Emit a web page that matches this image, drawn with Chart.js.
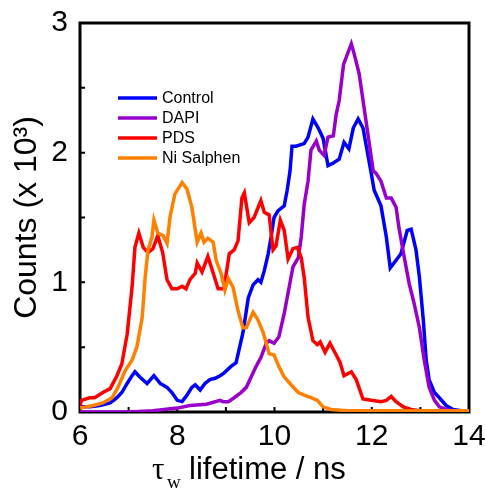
<!DOCTYPE html>
<html>
<head>
<meta charset="utf-8">
<script src="https://cdn.jsdelivr.net/npm/chart.js@4.4.1/dist/chart.umd.min.js"></script>
<style>
  html, body { margin: 0; padding: 0; background: #fff; }
</style>
</head>
<body>
<canvas id="lifetimeChart" width="485" height="490"></canvas>
<script>
// lifetime histograms, counts in units of 10^3

// Control
const controlX = [6.0, 6.2, 6.41, 6.62, 6.76, 6.86, 6.97, 7.07, 7.13, 7.23, 7.38, 7.52, 7.65, 7.79, 7.89, 8.0, 8.1, 8.2, 8.3, 8.37, 8.47, 8.57, 8.67, 8.78, 8.88, 8.96, 9.1, 9.21, 9.27, 9.35, 9.42, 9.46, 9.56, 9.66, 9.72, 9.79, 9.87, 9.93, 9.99, 10.07, 10.2, 10.26, 10.32, 10.36, 10.44, 10.61, 10.69, 10.79, 10.9, 11.0, 11.1, 11.21, 11.33, 11.43, 11.53, 11.62, 11.72, 11.82, 11.99, 12.05, 12.19, 12.3, 12.38, 12.5, 12.6, 12.73, 12.81, 12.91, 12.98, 13.06, 13.12, 13.18, 13.29, 13.39, 13.53, 13.67, 13.84, 14.0];
const controlY = [0.04, 0.04, 0.05, 0.07, 0.11, 0.15, 0.22, 0.28, 0.31, 0.27, 0.22, 0.28, 0.22, 0.19, 0.15, 0.09, 0.08, 0.13, 0.19, 0.21, 0.17, 0.22, 0.25, 0.26, 0.28, 0.3, 0.35, 0.38, 0.48, 0.61, 0.78, 0.88, 0.98, 1.02, 1.0, 1.09, 1.22, 1.35, 1.5, 1.55, 1.59, 1.71, 1.86, 2.05, 2.05, 2.07, 2.12, 2.26, 2.19, 2.11, 1.9, 1.92, 1.95, 2.08, 2.03, 2.19, 2.26, 2.19, 1.84, 1.71, 1.59, 1.35, 1.11, 1.17, 1.22, 1.4, 1.41, 1.25, 1.04, 0.71, 0.4, 0.25, 0.15, 0.11, 0.05, 0.02, 0.01, 0.0];

// DAPI
const dapiX = [6.0, 7.0, 7.5, 8.0, 8.26, 8.6, 8.88, 8.94, 9.05, 9.17, 9.31, 9.42, 9.52, 9.62, 9.72, 9.83, 9.89, 9.99, 10.09, 10.2, 10.3, 10.38, 10.49, 10.55, 10.61, 10.69, 10.75, 10.86, 10.92, 11.02, 11.1, 11.21, 11.27, 11.33, 11.42, 11.58, 11.64, 11.74, 11.88, 12.03, 12.09, 12.19, 12.3, 12.4, 12.5, 12.56, 12.67, 12.77, 12.87, 12.98, 13.08, 13.18, 13.29, 13.39, 13.53, 13.78, 14.0];
const dapiY = [0.0, 0.0, 0.01, 0.03, 0.05, 0.06, 0.09, 0.08, 0.08, 0.11, 0.15, 0.19, 0.27, 0.35, 0.42, 0.53, 0.55, 0.53, 0.58, 0.76, 0.96, 1.12, 1.19, 1.35, 1.6, 1.78, 2.02, 2.09, 2.02, 1.98, 2.12, 2.13, 2.3, 2.4, 2.68, 2.84, 2.76, 2.61, 2.25, 1.86, 1.84, 1.78, 1.65, 1.65, 1.58, 1.42, 1.19, 0.99, 0.84, 0.65, 0.4, 0.19, 0.09, 0.04, 0.02, 0.0, 0.0];

// PDS
const pdsX = [6.0, 6.03, 6.2, 6.3, 6.47, 6.62, 6.76, 6.86, 6.97, 7.07, 7.13, 7.21, 7.3, 7.4, 7.5, 7.6, 7.7, 7.79, 7.89, 8.0, 8.1, 8.18, 8.26, 8.37, 8.41, 8.51, 8.63, 8.74, 8.84, 8.96, 9.07, 9.17, 9.25, 9.33, 9.38, 9.48, 9.58, 9.72, 9.79, 9.89, 9.97, 10.03, 10.12, 10.2, 10.28, 10.38, 10.47, 10.55, 10.61, 10.69, 10.79, 10.88, 10.94, 11.04, 11.14, 11.27, 11.35, 11.43, 11.58, 11.68, 11.82, 11.99, 12.19, 12.3, 12.4, 12.5, 12.65, 12.81, 13.0, 14.0];
const pdsY = [0.05, 0.09, 0.11, 0.11, 0.15, 0.18, 0.28, 0.37, 0.6, 0.96, 1.27, 1.38, 1.27, 1.23, 1.26, 1.36, 1.23, 1.02, 0.95, 0.95, 0.97, 0.95, 1.02, 1.07, 1.15, 1.08, 1.2, 1.07, 0.95, 0.95, 1.22, 1.25, 1.32, 1.65, 1.69, 1.46, 1.5, 1.63, 1.54, 1.52, 1.25, 1.28, 1.48, 1.4, 1.18, 1.26, 1.27, 1.19, 1.04, 0.73, 0.55, 0.52, 0.54, 0.46, 0.53, 0.44, 0.38, 0.28, 0.31, 0.25, 0.1, 0.09, 0.08, 0.09, 0.12, 0.08, 0.04, 0.02, 0.01, 0.01];

// Ni Salphen
const niX = [6.0, 6.27, 6.47, 6.66, 6.78, 6.93, 7.07, 7.17, 7.28, 7.34, 7.4, 7.48, 7.52, 7.6, 7.71, 7.79, 7.85, 7.95, 8.1, 8.2, 8.3, 8.41, 8.49, 8.55, 8.63, 8.74, 8.8, 8.9, 8.98, 9.05, 9.15, 9.25, 9.35, 9.42, 9.56, 9.66, 9.77, 9.83, 9.89, 9.99, 10.09, 10.2, 10.34, 10.49, 10.61, 10.75, 10.88, 11.0, 11.16, 11.5, 14.0];
const niY = [0.03, 0.05, 0.07, 0.11, 0.19, 0.32, 0.4, 0.5, 0.73, 1.04, 1.25, 1.35, 1.48, 1.38, 1.36, 1.3, 1.5, 1.68, 1.77, 1.72, 1.58, 1.31, 1.38, 1.31, 1.34, 1.31, 1.17, 1.07, 0.94, 1.03, 0.96, 0.78, 0.65, 0.65, 0.77, 0.71, 0.61, 0.53, 0.45, 0.44, 0.35, 0.27, 0.21, 0.15, 0.13, 0.11, 0.09, 0.04, 0.02, 0.01, 0.01];

const seriesNames = ['Control', 'DAPI', 'PDS', 'Ni Salphen'];
const seriesColors = ['#0000ff', '#9900cc', '#ff0000', '#ff8000'];

// axis ticks
const xMinorTicks = [7, 8, 9, 10, 11, 12, 13];
const yMinorTicks = [0.5, 1, 1.5, 2, 2.5];

function toPoints(xs, ys) {
  return xs.map((x, i) => ({ x: x, y: ys[i] }));
}

const allSeries = [
  toPoints(controlX, controlY),
  toPoints(dapiX, dapiY),
  toPoints(pdsX, pdsY),
  toPoints(niX, niY)
];

const datasets = allSeries.map((pts, i) => ({
  label: seriesNames[i],
  data: pts,
  borderColor: seriesColors[i],
  backgroundColor: seriesColors[i],
  borderWidth: 3.5,
  pointRadius: 0,
  tension: 0,
  fill: false,
  order: allSeries.length - i // later series on top
}));

// frame, inside ticks, legend and the x title with subscript
const framePlugin = {
  id: 'framePlugin',
  beforeDatasetsDraw(chart) {
    const { ctx, chartArea: a, scales } = chart;
    ctx.save();
    ctx.strokeStyle = '#000';
    ctx.lineWidth = 2;
    ctx.beginPath();
    xMinorTicks.forEach(v => {
      const px = scales.x.getPixelForValue(v);
      ctx.moveTo(px, a.bottom);
      ctx.lineTo(px, a.bottom - 5);
    });
    yMinorTicks.forEach(v => {
      const py = scales.y.getPixelForValue(v);
      ctx.moveTo(a.left, py);
      ctx.lineTo(a.left + 5, py);
    });
    ctx.stroke();
    ctx.lineWidth = 3;
    ctx.strokeRect(a.left, a.top, a.right - a.left, a.bottom - a.top);
    ctx.restore();
  },
  afterDraw(chart) {
    const ctx = chart.ctx;
    ctx.save();
    // legend
    ctx.lineWidth = 3.5;
    ctx.font = '16px "Liberation Sans", Arial, sans-serif';
    ctx.textBaseline = 'middle';
    ctx.fillStyle = '#000';
    seriesNames.forEach((name, i) => {
      const ly = 98 + i * 20;
      ctx.strokeStyle = seriesColors[i];
      ctx.beginPath();
      ctx.moveTo(118, ly);
      ctx.lineTo(157, ly);
      ctx.stroke();
      ctx.fillText(name, 162, ly + 1);
    });
    // x title
    ctx.textBaseline = 'alphabetic';
    ctx.font = '31px "Liberation Serif", serif';
    ctx.fillText('τ', 152, 479);
    ctx.font = '19px "Liberation Serif", serif';
    ctx.fillText('w', 167, 488);
    ctx.font = '31px "Liberation Sans", Arial, sans-serif';
    ctx.fillText('lifetime / ns', 189, 479);
    ctx.restore();
  }
};

const tickFont = { family: '"Liberation Sans", Arial, sans-serif', size: 30 };

const config = {
  type: 'line',
  data: { datasets: datasets },
  options: {
    responsive: false,
    animation: false,
    layout: { padding: { top: 23, right: 16, left: 0, bottom: 0 } },
    plugins: {
      legend: { display: false },
      tooltip: { enabled: false }
    },
    scales: {
      x: {
        type: 'linear',
        min: 6,
        max: 14,
        grid: { display: false, drawTicks: false },
        border: { display: false },
        ticks: { stepSize: 2, font: tickFont, color: '#000', padding: 7 },
        afterFit(scale) {
          scale.height = 78;
          scale.paddingLeft = 0;
          scale.paddingRight = 0;
        }
      },
      y: {
        min: 0,
        max: 3,
        grid: { display: false, drawTicks: false },
        border: { display: false },
        ticks: { stepSize: 1, font: tickFont, color: '#000', padding: 12 },
        title: {
          display: true,
          text: 'Counts (x 10³)',
          font: { family: '"Liberation Sans", Arial, sans-serif', size: 32 },
          color: '#000',
          padding: { top: 8, bottom: 0 }
        },
        afterFit(scale) {
          scale.width = 80;
          scale.paddingTop = 0;
          scale.paddingBottom = 0;
        }
      }
    }
  },
  plugins: [framePlugin]
};

const ctx = document.getElementById('lifetimeChart').getContext('2d');
const lifetimeChart = new Chart(ctx, config);
</script>
</body>
</html>
